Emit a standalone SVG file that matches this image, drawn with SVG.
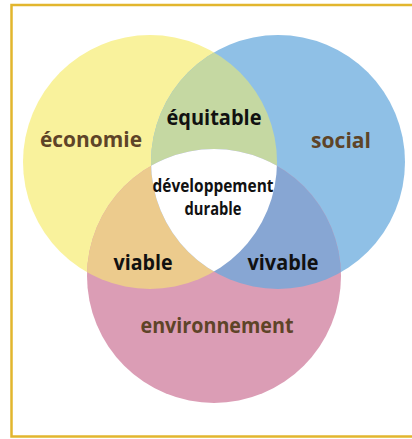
<svg xmlns="http://www.w3.org/2000/svg" width="412" height="439" viewBox="0 0 412 439">
<style>
.lbl{font-family:"Open Sans","DejaVu Sans",sans-serif;font-weight:700;text-anchor:middle}
.brown{fill:#5E4428;font-size:21px}
.blk{fill:#111;font-size:21px}
.ctr{fill:#111;font-size:18px}
</style>
<defs>
<clipPath id="cy"><circle cx="150" cy="162" r="127"/></clipPath>
<clipPath id="cb"><circle cx="278" cy="162" r="127"/></clipPath>
</defs>
<rect x="11.5" y="5" width="410" height="431.5" fill="#fff" stroke="#E2B62E" stroke-width="2.5"/>
<g id="economie"><circle cx="150" cy="162" r="127" fill="#F9F29C"/></g>
<g id="social"><circle cx="278" cy="162" r="127" fill="#8FC0E6"/></g>
<g id="environnement"><circle cx="214" cy="276" r="127" fill="#DB9DB5"/></g>
<g id="equitable"><circle cx="278" cy="162" r="127" fill="#C5D8A2" clip-path="url(#cy)"/></g>
<g id="viable"><circle cx="214" cy="276" r="127" fill="#ECCB8D" clip-path="url(#cy)"/></g>
<g id="vivable"><circle cx="214" cy="276" r="127" fill="#87A6D3" clip-path="url(#cb)"/></g>
<g id="developpement-durable"><g clip-path="url(#cy)"><circle cx="214" cy="276" r="127" fill="#fff" clip-path="url(#cb)"/></g></g>
<g id="labels">
<text class="lbl brown" x="91" y="147" textLength="102" lengthAdjust="spacingAndGlyphs">économie</text>
<text class="lbl brown" x="341" y="148" textLength="60" lengthAdjust="spacingAndGlyphs">social</text>
<text class="lbl blk" x="214" y="125" textLength="95" lengthAdjust="spacingAndGlyphs">équitable</text>
<text class="lbl ctr" x="213" y="192" textLength="121" lengthAdjust="spacingAndGlyphs">développement</text>
<text class="lbl ctr" x="213" y="215" textLength="57" lengthAdjust="spacingAndGlyphs">durable</text>
<text class="lbl blk" x="143" y="270" textLength="59" lengthAdjust="spacingAndGlyphs">viable</text>
<text class="lbl blk" x="283" y="270" textLength="71" lengthAdjust="spacingAndGlyphs">vivable</text>
<text class="lbl brown" x="217" y="333" textLength="153" lengthAdjust="spacingAndGlyphs">environnement</text>
</g>
</svg>
